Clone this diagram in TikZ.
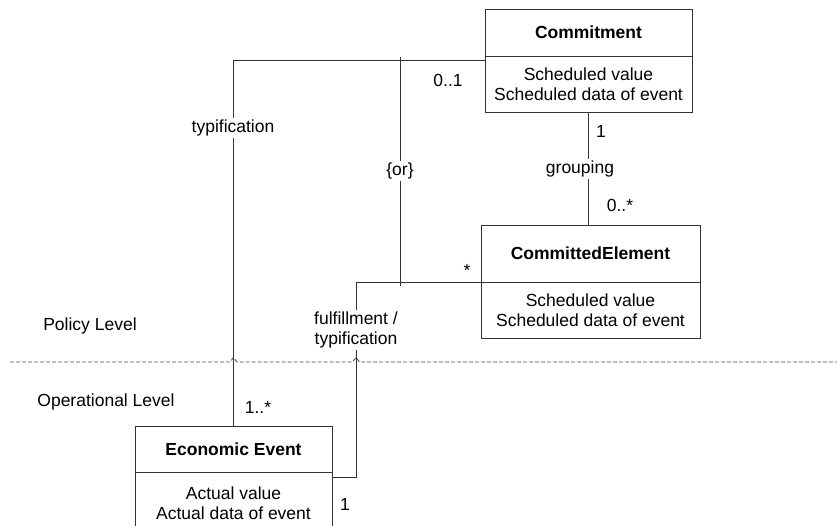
\documentclass[tikz,border=0pt]{standalone}
\usepackage{fontspec}
\setmainfont{Liberation Sans}
\usetikzlibrary{positioning}
\tikzset{%
    classname/.style={shape=rectangle,draw=black!80,line width=0.9pt,inner sep=0pt,outer sep=0pt,font=\fontsize{17.5}{19.5}\selectfont\bfseries},
    classattr/.style={shape=rectangle,draw=black!80,line width=0.9pt,inner sep=0pt,outer sep=0pt,align=center},
    assoc/.style={draw=black!80,line width=0.9pt},
    assoclabel/.style={fill=white,inner sep=2pt,align=center},
    levelline/.style={draw=black!70,line width=0.9pt,dash pattern=on 4pt off 2pt},
}

\begin{document}
\begin{tikzpicture}[x=1pt,y=-1pt,font=\fontsize{17.5}{19.5}\selectfont]
	
	\clip (0,0) rectangle (837,526);
	
	%classes
	\node[classname,minimum width=207pt,minimum height=47pt] (cmt) at (588.5,32.5) {Commitment};
	\node[classattr,minimum width=207pt,minimum height=56pt,below=0pt of cmt] (cmtattr) {Scheduled value\\Scheduled data of event};
	
	\node[classname,minimum width=219pt,minimum height=57pt] (cme) at (590.5,253.5) {CommittedElement};
	\node[classattr,minimum width=219pt,minimum height=56pt,below=0pt of cme] (cmeattr) {Scheduled value\\Scheduled data of event};
	
	\node[classname,minimum width=197pt,minimum height=46pt] (ee) at (233.5,449) {Economic Event};
	\node[classattr,minimum width=197pt,minimum height=62pt,below=0pt of ee] (eeattr) {Actual value\\Actual data of event};
	%%%%%%%%%%%%%%%%%%%
	
	%associations
	\draw[assoc] ([yshift=-4pt]cmtattr.north west) -| (ee.north);
	\draw[assoc] (cmtattr.south) -- (cmtattr.south |- cme.north);
	
	\coordinate (orTop) at (400,57);
	\coordinate (orBot) at (400,286);
	\draw[assoc] (orTop) -- (orBot);
	
	\coordinate (ffBend) at (356,282);
	\draw[assoc] (cmeattr.north west) -- (ffBend) |- ([yshift=-5pt]eeattr.north east);
	
	%level separator
	\draw[levelline] (10,362) -- (230,362) -- (233.5,357.5) -- (237,362)
		-- (352.5,362) -- (356,357.5) -- (359.5,362) -- (837,362);
	%%%%%%%%%%%%%%%%%%%
	
	\node[assoclabel] (typLbl) at (233,128) {typification};
	\node[assoclabel] (orLbl) at (400,171) {\{or\}};
	\node[assoclabel] (grpLbl) at (580,169) {grouping};
	\node[assoclabel] (ffLbl) at (356,330) {fulfillment /\\typification};
	
	\node (mZeroOne) at (448,80) {0..1};
	\node (mCmtOne) at (601,131) {1};
	\node (mZeroMany) at (620,205) {0..*};
	\node (mMany) at (467,270) {*};
	\node (mOneMany) at (258,407) {1..*};
	\node (mEeOne) at (345,504) {1};
	
	\node (policy) at (90,326) {Policy Level};
	\node (operational) at (106,402) {Operational Level};
	
\end{tikzpicture}
\end{document}
